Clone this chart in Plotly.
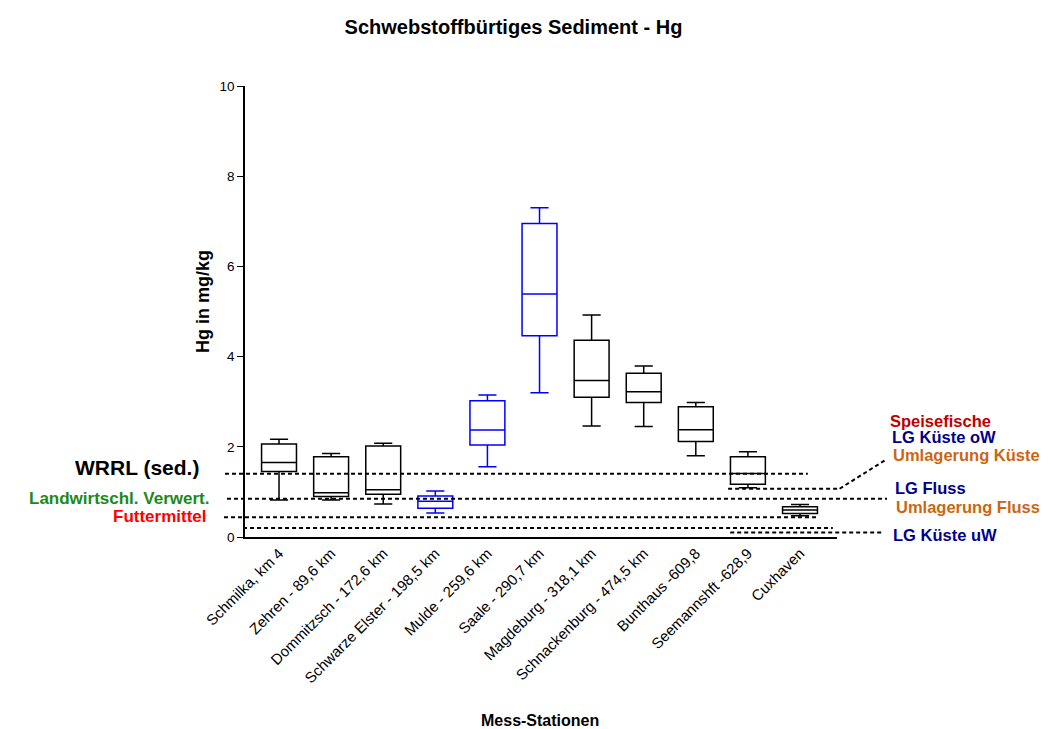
import plotly.graph_objects as go

# ---------------- data ----------------
stations = [
    "Schmilka, km 4", "Zehren - 89,6 km", "Dommitzsch - 172,6 km",
    "Schwarze Elster - 198,5 km", "Mulde - 259,6 km", "Saale - 290,7 km",
    "Magdeburg - 318,1 km", "Schnackenburg - 474,5 km", "Bunthaus -609,8",
    "Seemannshft -628,9", "Cuxhaven",
]
hg_min = [0.82, 0.82, 0.73, 0.53, 1.56, 3.20, 2.46, 2.45, 1.80, 1.09, 0.47]
hg_q1 = [1.45, 0.90, 0.95, 0.64, 2.04, 4.46, 3.10, 2.98, 2.12, 1.17, 0.52]
hg_median = [1.65, 0.98, 1.05, 0.79, 2.37, 5.39, 3.47, 3.22, 2.38, 1.41, 0.60]
hg_q3 = [2.06, 1.78, 2.02, 0.91, 3.02, 6.95, 4.36, 3.63, 2.89, 1.78, 0.67]
hg_max = [2.17, 1.85, 2.08, 1.02, 3.15, 7.30, 4.92, 3.79, 2.98, 1.89, 0.72]
tributary = [False, False, False, True, True, True, False, False, False, False, False]

y_ticks = [0, 2, 4, 6, 8, 10]

# threshold values (mg/kg)
thr_wrrl = 1.4
thr_landw = 0.85
thr_futter = 0.44
thr_low = 0.2
thr_kueste_uw = 0.1
thr_kueste = 1.07
thr_kueste_label = 1.70

# ---------------- layout constants ----------------
W, H = 1058, 729
ML, MR, MT, MB = 245, 221, 86, 192
X_RANGE = [-0.653, 10.71]
Y_RANGE = [0, 10]
FONT = "Arial, Liberation Sans, sans-serif"


def xp(v):
    """data x -> paper x"""
    return (v - X_RANGE[0]) / (X_RANGE[1] - X_RANGE[0])


fig = go.Figure()

for i, name in enumerate(stations):
    col = "#0000FF" if tributary[i] else "#000000"
    fig.add_trace(go.Box(
        x=[i],
        q1=[hg_q1[i]], median=[hg_median[i]], q3=[hg_q3[i]],
        lowerfence=[hg_min[i]], upperfence=[hg_max[i]],
        name=name, boxpoints=False, width=0.67, whiskerwidth=0.52,
        line=dict(color=col, width=1.5), fillcolor="rgba(255,255,255,0)",
        showlegend=False, hoverinfo="skip",
    ))

dot = "4px,3px"


def hline(x0, x1, y, layer="above"):
    fig.add_shape(type="line", xref="paper", yref="y",
                  x0=xp(x0), x1=xp(x1), y0=y, y1=y,
                  line=dict(color="black", width=2, dash=dot), layer=layer)


hline(-1.037, 10.15, thr_wrrl)
hline(-0.999, 11.67, thr_landw)
hline(-1.056, 10.32, thr_futter)
hline(-0.69, 10.63, thr_low)
hline(8.66, 11.59, thr_kueste_uw)
hline(8.62, 10.76, thr_kueste)
fig.add_shape(type="line", xref="paper", yref="y",
              x0=xp(10.76), x1=xp(11.63), y0=thr_kueste, y1=thr_kueste_label,
              line=dict(color="black", width=2, dash=dot))

# ---------------- annotations ----------------
ann = []


def label(text, x, y, color, size=17, xanchor="left"):
    ann.append(dict(text=f"<b>{text}</b>", xref="paper", yref="y", x=xp(x), y=y,
                    xanchor=xanchor, yanchor="middle", showarrow=False,
                    borderpad=0,
                    font=dict(family=FONT, size=size, color=color)))


# right side
label("Speisefische", 11.71, 2.58, "#C00000", size=16.5)
label("LG Küste oW", 11.74, 2.21, "#00008B", size=16.5)
label("Umlagerung Küste", 11.76, 1.81, "#CC6611", size=16.5)
label("LG Fluss", 11.81, 1.08, "#00008B", size=16.5)
label("Umlagerung Fluss", 11.83, 0.66, "#CC6611", size=16.5)
label("LG Küste uW", 11.77, 0.04, "#00008B", size=16.5)
# left side
label("WRRL (sed.)", -1.51, 1.54, "#000000", size=21, xanchor="right")
label("Landwirtschl. Verwert.", -1.33, 0.86, "#1A8A1A", xanchor="right")
label("Futtermittel", -1.37, 0.46, "#FF0000", xanchor="right")

# axis titles
ann.append(dict(text="<b>Mess-Stationen</b>", xref="paper", yref="paper",
                x=(540 - ML) / (W - ML - MR), y=-(720 - (H - MB)) / (H - MT - MB),
                xanchor="center", yanchor="middle", showarrow=False, borderpad=0,
                font=dict(family=FONT, size=16, color="black")))
ann.append(dict(text="<b>Hg in mg/kg</b>", xref="paper", yref="paper",
                x=(203 - ML) / (W - ML - MR), y=((H - MB) - 302) / (H - MT - MB),
                xanchor="center", yanchor="middle", textangle=-90, showarrow=False,
                font=dict(family=FONT, size=18, color="black")))

fig.update_layout(
    width=W, height=H,
    margin=dict(l=ML, r=MR, t=MT, b=MB, autoexpand=False),
    paper_bgcolor="white", plot_bgcolor="white",
    title=dict(text="<b>Schwebstoffbürtiges Sediment - Hg</b>",
               xref="container", yref="container",
               x=513.5 / W, y=1 - 27 / H, xanchor="center", yanchor="middle",
               font=dict(family=FONT, size=20, color="black")),
    annotations=ann,
    font=dict(family=FONT, color="black"),
    xaxis=dict(range=X_RANGE, tickvals=list(range(len(stations))), ticktext=stations,
               tickangle=-45, ticks="", showline=True, linecolor="black", linewidth=1.5,
               showgrid=False, zeroline=False, tickfont=dict(size=15), automargin=False),
    yaxis=dict(range=Y_RANGE, tickvals=y_ticks, ticks="outside", ticklen=6,
               tickwidth=1.2, tickcolor="black", showline=True, linecolor="black",
               linewidth=1.5, showgrid=False, zeroline=False,
               tickfont=dict(size=13.5), automargin=False),
    showlegend=False,
)

fig.write_html("out.html")
